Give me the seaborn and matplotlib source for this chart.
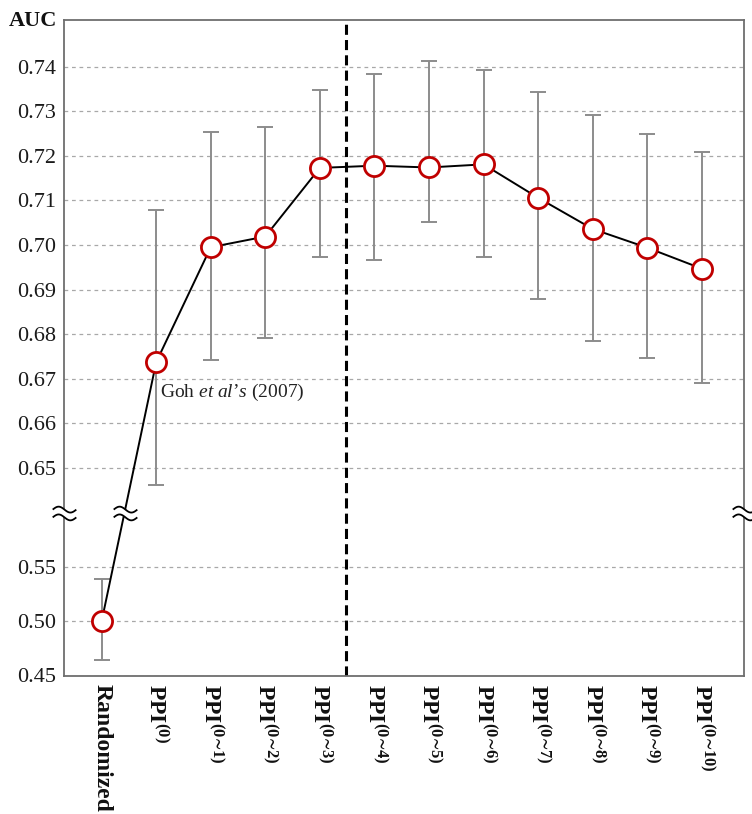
import numpy as np
import pandas as pd
import matplotlib
matplotlib.use("Agg")
import matplotlib.pyplot as plt
import seaborn as sns
from matplotlib.path import Path

# ---------------- data ----------------
categories = ["Randomized", "PPI(0)", "PPI(0~1)", "PPI(0~2)", "PPI(0~3)", "PPI(0~4)",
              "PPI(0~5)", "PPI(0~6)", "PPI(0~7)", "PPI(0~8)", "PPI(0~9)", "PPI(0~10)"]
superscripts = [None, "(0)", "(0∼1)", "(0∼2)", "(0∼3)", "(0∼4)", "(0∼5)",
                "(0∼6)", "(0∼7)", "(0∼8)", "(0∼9)", "(0∼10)"]
auc = [0.500, 0.6737, 0.6995, 0.7019, 0.7173, 0.7178, 0.7174, 0.7181, 0.7106, 0.7036, 0.6994, 0.6947]
auc_upper = [0.539, 0.7079, 0.7254, 0.7265, 0.7349, 0.7384, 0.7413, 0.7392, 0.7343, 0.7292, 0.7249, 0.7208]
auc_lower = [0.4639, 0.6462, 0.6742, 0.6791, 0.6973, 0.6967, 0.7051, 0.6973, 0.6878, 0.6785, 0.6746, 0.6690]
y_ticks = [0.45, 0.50, 0.55, 0.65, 0.66, 0.67, 0.68, 0.69, 0.70, 0.71, 0.72, 0.73, 0.74]
annotation = r"Goh $\mathit{et\ al’s}$ (2007)"
y_title = "AUC"

tick_labels = [c if s is None else r"$\mathbf{PPI}^{\mathbf{" + s + "}}$"
               for c, s in zip(categories, superscripts)]

# ---------------- style ----------------
sns.set_theme(style="white")
plt.rcParams["font.family"] = ["Liberation Serif", "DejaVu Serif"]
plt.rcParams["mathtext.fontset"] = "custom"
plt.rcParams["mathtext.rm"] = "Liberation Serif"
plt.rcParams["mathtext.bf"] = "Liberation Serif:bold"
plt.rcParams["mathtext.it"] = "Liberation Serif:italic"

# broken y axis as a piecewise-linear scale
def fwd(v):
    v = np.asarray(v, dtype=float)
    return np.where(v < 0.6, (v - 0.45) * 1088.0,
                    np.where(v < 0.64, 163.2 + (v - 0.6) * 10.0,
                             163.6 + (v - 0.64) * 4467.0))

def inv(u):
    u = np.asarray(u, dtype=float)
    return np.where(u < 163.2, u / 1088.0 + 0.45,
                    np.where(u < 163.6, 0.6 + (u - 163.2) / 10.0,
                             0.64 + (u - 163.6) / 4467.0))

fig = plt.figure(figsize=(7.52, 8.14), dpi=100)
W, H = 752, 814
ax = fig.add_axes([64 / W, 1 - 675.5 / H, (744 - 64) / W, (675.5 - 20) / H])
ax.set_yscale("function", functions=(fwd, inv))

pos = np.arange(len(categories))
df = pd.DataFrame({"pos": pos, "AUC": auc, "lo": auc_lower, "hi": auc_upper})

# error bars
ax.errorbar(df["pos"], df["AUC"],
            yerr=[df["AUC"] - df["lo"], df["hi"] - df["AUC"]],
            fmt="none", ecolor="#8C8C8C", elinewidth=1.4, capsize=6, capthick=1.4, zorder=2)

# line with markers
sns.lineplot(data=df, x="pos", y="AUC", ax=ax, sort=False, color="black", linewidth=1.4,
             marker="o", markersize=14.5, markerfacecolor="white",
             markeredgecolor="#C00000", markeredgewidth=2.0, zorder=3)

ax.set_xlim(-0.69, 11.775)
ax.set_ylim(0.45, 0.7505)

ax.set_yticks(y_ticks)
ax.set_yticklabels([f"{v:.2f}" for v in y_ticks], fontsize=16, color="#1a1a1a")
ax.set_xticks(pos)
ax.set_xticklabels(tick_labels, rotation=-90, fontsize=17, fontweight="bold", color="#111111")
ax.tick_params(axis="both", length=0, pad=6)
ax.set_xlabel("")
ax.set_ylabel("")

ax.yaxis.grid(True, linestyle=(0, (3, 3)), color="#A8A8A8", linewidth=0.9)
ax.xaxis.grid(False)
for s in ax.spines.values():
    s.set_color("#6E6E6E")
    s.set_linewidth(1.3)

# vertical dashed separator
ax.axvline(4.48, color="black", linewidth=2.2, linestyle=(0, (3.3, 1.7)), zorder=2.5)

# annotation
ax.annotate(annotation, xy=(1, auc[1]), xytext=(3, -25), textcoords="offset points",
            fontsize=14, color="#222222", va="baseline", ha="left")

fig.text(9 / W, 1 - 21 / H, y_title, fontsize=16, fontweight="bold", va="center", ha="left",
         color="#111111")

# break marks
xs = np.linspace(-1, 1, 40)
wave = -0.25 * np.sin(np.pi * xs)
top = np.column_stack([xs, 0.33 + wave])
bot = np.column_stack([xs, -0.33 + wave])
verts = np.vstack([top, bot])
codes = [Path.MOVETO] + [Path.LINETO] * (len(xs) - 1) + [Path.MOVETO] + [Path.LINETO] * (len(xs) - 1)
wave_path = Path(verts, codes)
fill_verts = np.vstack([top, bot[::-1], top[:1]])
fill_codes = [Path.MOVETO] + [Path.LINETO] * (len(fill_verts) - 2) + [Path.CLOSEPOLY]
fill_path = Path(fill_verts, fill_codes)

y_break = 0.62
f0, f1, fb = fwd(auc[0]), fwd(auc[1]), fwd(y_break)
x_line_break = pos[0] + (fb - f0) / (f1 - f0) * (pos[1] - pos[0])
bx = [ax.get_xlim()[0], ax.get_xlim()[1], x_line_break]
by = [y_break] * 3
ax.plot(bx, by, linestyle="none", marker=fill_path, markersize=17, markerfacecolor="white",
        markeredgewidth=0, clip_on=False, zorder=6)
ax.plot(bx, by, linestyle="none", marker=wave_path, markersize=17, fillstyle="none",
        markeredgecolor="black", markeredgewidth=1.3, clip_on=False, zorder=7)

fig.savefig("out.png", dpi=100)
